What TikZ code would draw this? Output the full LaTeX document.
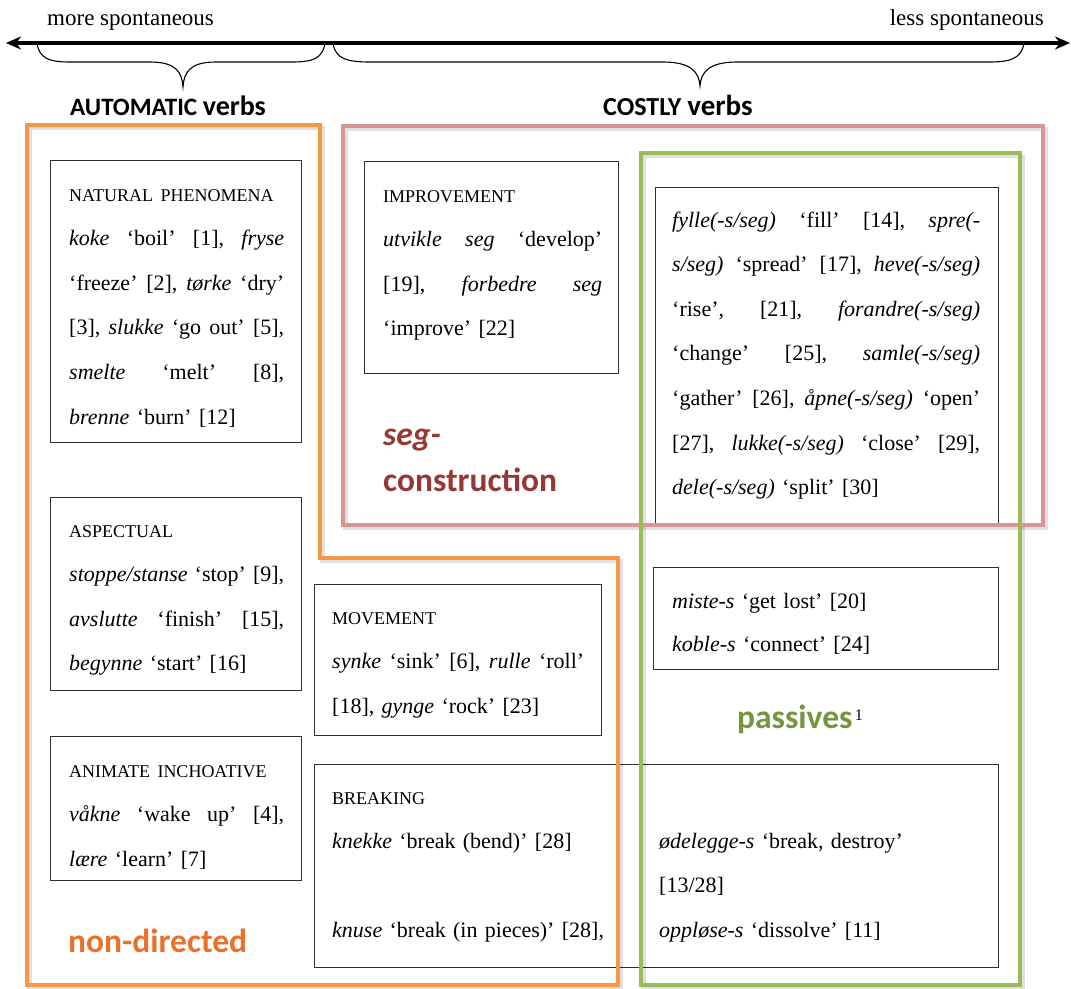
\documentclass[tikz,border=0pt]{standalone}
\usepackage{fontspec}
\setmainfont{Liberation Serif}
\newfontfamily\labfont{Carlito}
\usetikzlibrary{arrows.meta}
\definecolor{orng}{RGB}{247,150,70}
\definecolor{pnk}{RGB}{217,149,148}
\definecolor{grn}{RGB}{155,187,89}
\definecolor{segred}{RGB}{149,55,53}
\definecolor{pasgrn}{RGB}{119,147,60}
\definecolor{ndorng}{RGB}{233,113,43}
\definecolor{boxline}{RGB}{45,45,45}
\newcommand\jw{200pt}
\newcommand\J[1]{\leavevmode\hbox to \jw{#1}}
\newcommand\s{\hskip 0.25em plus 1fil\relax}
\newcommand\hd[1]{{\fontsize{18}{44.6}\selectfont #1}}
\tikzset{
  box/.style={draw=boxline, line width=0.9pt, inner sep=0pt, anchor=north west},
  txt/.style={inner sep=0pt, anchor=base west, align=left, font=\fontsize{22}{44.6}\selectfont},
  lab/.style={inner sep=0pt, anchor=base west, font=\labfont\bfseries\fontsize{33.5}{36}\selectfont},
  outl/.style={line width=4.2pt, line join=miter},
  shad/.style={line width=4.5pt, draw=black, draw opacity=0.12},
  brace/.style={line width=1.1pt, draw=black},
}
\begin{document}
\begin{tikzpicture}[x=1pt, y=-1pt]
\useasboundingbox[fill=white] (0,0) rectangle (1071,988);

% scale arrow
\draw[line width=3.8pt, {Stealth[length=15pt,width=13pt]}-{Stealth[length=15pt,width=13pt]}] (6,43) -- (1070,43);
\node[inner sep=0pt, anchor=base west, font=\fontsize{23}{26}\selectfont] (more) at (47,25) {more spontaneous};
\node[inner sep=0pt, anchor=base east, font=\fontsize{23}{26}\selectfont] (less) at (1044,25) {less spontaneous};

% braces
\draw[brace] (37,44) .. controls (40,58) and (48,62) .. (70,62) -- (150,62)
  .. controls (176,62) and (182,72) .. (183,87)
  .. controls (184,72) and (190,62) .. (216,62) -- (292,62)
  .. controls (314,62) and (322,58) .. (325,44);
\draw[brace] (333,44) .. controls (336,58) and (345,62) .. (370,62) -- (663,62)
  .. controls (691,62) and (699,72) .. (700,86)
  .. controls (701,72) and (709,62) .. (737,62) -- (990,62)
  .. controls (1015,62) and (1021,56) .. (1024,44);

\node[inner sep=0pt, anchor=base west, font=\labfont\bfseries] (autom) at (70,115)
  {\fontsize{25}{28}\selectfont AUTOMATIC \fontsize{28}{28}\selectfont verbs};
\node[inner sep=0pt, anchor=base west, font=\labfont\bfseries] (costly) at (603,115)
  {\fontsize{26}{28}\selectfont COSTLY \fontsize{29}{28}\selectfont verbs};

% black boxes
\node[box, minimum width=251pt, minimum height=282pt] (natbox) at (50,160) {};
\node[box, minimum width=254pt, minimum height=212pt] (impbox) at (364,161) {};
\node[box, minimum width=343pt, minimum height=336pt] (fylbox) at (655,187) {};
\node[box, minimum width=251pt, minimum height=193pt] (aspbox) at (50,497) {};
\node[box, minimum width=287pt, minimum height=151pt] (movbox) at (314,584) {};
\node[box, minimum width=345pt, minimum height=102pt] (misbox) at (653,567) {};
\node[box, minimum width=251pt, minimum height=144pt] (anibox) at (50,736) {};
\node[box, minimum width=684pt, minimum height=203pt] (brkbox) at (314,764) {};

% box texts
\node[txt, text width=215pt] (nattxt) at (69,201) {\renewcommand\jw{215pt}\hd{NATURAL PHENOMENA}\\
\J{\textit{koke}\s ‘boil’\s [1],\s \textit{fryse}}\\
\J{‘freeze’\s [2],\s \textit{tørke}\s ‘dry’}\\
\J{[3],\s \textit{slukke}\s ‘go\s out’\s [5],}\\
\J{\textit{smelte}\s ‘melt’\s [8],}\\
\textit{brenne} ‘burn’ [12]};

\node[txt, text width=219pt] (imptxt) at (383,202) {\renewcommand\jw{219pt}\hd{IMPROVEMENT}\\
\J{\textit{utvikle\s seg}\s ‘develop’}\\
\J{[19],\s \textit{forbedre\s seg}}\\
‘improve’ [22]};

\node[txt, text width=308pt] (fyltxt) at (672,227) {\renewcommand\jw{308pt}\J{\textit{fylle(-s/seg)}\s ‘fill’\s [14],\s \textit{spre(-}}\\
\J{\textit{s/seg)}\s ‘spread’\s [17],\s \textit{heve(-s/seg)}}\\
\J{‘rise’,\s [21],\s \textit{forandre(-s/seg)}}\\
\J{‘change’\s [25],\s \textit{samle(-s/seg)}}\\
\J{‘gather’\s [26],\s \textit{åpne(-s/seg)}\s ‘open’}\\
\J{[27],\s \textit{lukke(-s/seg)}\s ‘close’\s [29],}\\
\textit{dele(-s/seg)} ‘split’ [30]};

\node[txt, text width=215pt] (asptxt) at (69,537) {\renewcommand\jw{215pt}\hd{ASPECTUAL}\\
\J{\textit{stoppe/stanse}\s ‘stop’\s [9],}\\
\J{\textit{avslutte}\s ‘finish’\s [15],}\\
\textit{begynne} ‘start’ [16]};

\node[txt, text width=252pt] (movtxt) at (332,624) {\renewcommand\jw{252pt}\hd{MOVEMENT}\\
\J{\textit{synke}\s ‘sink’\s [6],\s \textit{rulle}\s ‘roll’}\\
{[18]}, \textit{gynge} ‘rock’ [23]};

\node[txt, text width=300pt, font=\fontsize{22}{43}\selectfont] (mistxt) at (672,608) {\textit{miste-s} ‘get lost’ [20]\\
\textit{koble-s} ‘connect’ [24]};

\node[txt, text width=215pt] (anitxt) at (69,777) {\renewcommand\jw{215pt}\hd{ANIMATE INCHOATIVE}\\
\J{\textit{våkne}\s ‘wake\s up’\s [4],}\\
\textit{lære} ‘learn’ [7]};

\node[txt, text width=280pt] (brktxt) at (332,804) {\hd{BREAKING}\\
\textit{knekke} ‘break (bend)’ [28]\\[44.6pt]
\textit{knuse} ‘break (in pieces)’ [28],};

\node[txt, text width=320pt] (brktxt2) at (659,848) {\textit{ødelegge-s} ‘break, destroy’\\
{[13/28]}\\
\textit{oppløse-s} ‘dissolve’ [11]};

% shadows of coloured outlines
\begin{scope}[shift={(2.5,3)}]
\draw[shad] (343,126) rectangle (1043,525);
\draw[shad] (27,125) -- (320,125) -- (320,558) -- (618,558) -- (618,985) -- (27,985) -- cycle;
\draw[shad] (641,153) rectangle (1020,985);
\end{scope}

% coloured outlines
\draw[outl, draw=pnk] (343,126) rectangle (1043,525);
\draw[outl, draw=orng] (27,125) -- (320,125) -- (320,558) -- (618,558) -- (618,985) -- (27,985) -- cycle;
\draw[outl, draw=grn] (641,153) rectangle (1020,985);

% group labels
\node[lab, text=segred] (seg) at (383,445) {\itshape seg-};
\node[lab, text=segred] (constr) at (383,491) {construction};
\node[lab, text=pasgrn] (pass) at (737,728) {passives};
\node[inner sep=0pt, anchor=base west, font=\fontsize{16}{18}\selectfont, xshift=2pt, yshift=8pt] (fn) at (pass.base east) {1};
\node[lab, text=ndorng] (nondir) at (68,952) {non-directed};
\end{tikzpicture}
\end{document}
